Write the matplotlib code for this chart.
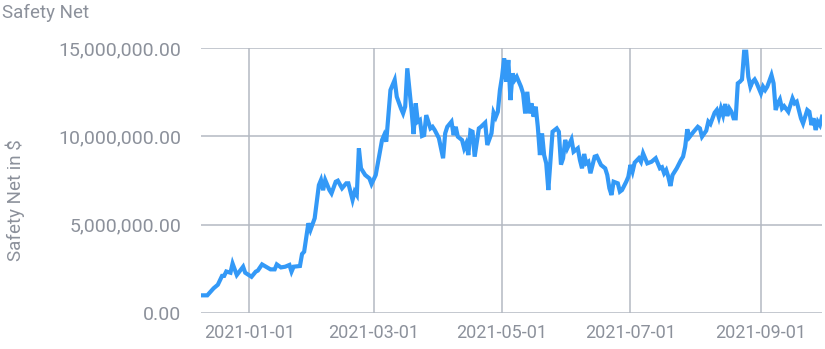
import pandas as pd
import matplotlib.pyplot as plt
import matplotlib.dates as mdates
from matplotlib.ticker import FuncFormatter

plt.rcParams['font.family'] = ['Roboto', 'DejaVu Sans']

# values (millions)
dates = [
    "2020-12-09", "2020-12-12", "2020-12-15", "2020-12-17", "2020-12-19", "2020-12-20",
    "2020-12-21", "2020-12-23", "2020-12-24", "2020-12-26", "2020-12-29", "2020-12-30",
    "2021-01-02", "2021-01-04", "2021-01-05", "2021-01-07", "2021-01-08", "2021-01-11",
    "2021-01-13", "2021-01-14", "2021-01-16", "2021-01-18", "2021-01-20", "2021-01-21",
    "2021-01-22", "2021-01-25", "2021-01-26", "2021-01-27", "2021-01-29", "2021-01-30",
    "2021-02-01", "2021-02-03", "2021-02-04", "2021-02-05", "2021-02-06", "2021-02-08",
    "2021-02-09", "2021-02-11", "2021-02-12", "2021-02-14", "2021-02-16", "2021-02-17",
    "2021-02-19", "2021-02-20", "2021-02-21", "2021-02-22", "2021-02-23", "2021-02-25",
    "2021-02-27", "2021-02-28", "2021-03-02", "2021-03-03", "2021-03-05", "2021-03-06",
    "2021-03-07", "2021-03-09", "2021-03-10", "2021-03-11", "2021-03-12", "2021-03-14",
    "2021-03-15", "2021-03-16", "2021-03-17", "2021-03-19", "2021-03-20", "2021-03-21",
    "2021-03-22", "2021-03-23", "2021-03-24", "2021-03-25", "2021-03-26", "2021-03-28",
    "2021-03-29", "2021-03-30", "2021-04-01", "2021-04-03", "2021-04-04", "2021-04-05",
    "2021-04-07", "2021-04-08", "2021-04-09", "2021-04-10", "2021-04-12", "2021-04-13",
    "2021-04-14", "2021-04-15", "2021-04-16", "2021-04-17", "2021-04-18", "2021-04-20",
    "2021-04-21", "2021-04-23", "2021-04-24", "2021-04-26", "2021-04-27", "2021-04-28",
    "2021-04-29", "2021-04-30", "2021-05-01", "2021-05-02", "2021-05-03", "2021-05-04",
    "2021-05-05", "2021-05-06", "2021-05-07", "2021-05-08", "2021-05-10", "2021-05-11",
    "2021-05-12", "2021-05-13", "2021-05-14", "2021-05-15", "2021-05-16", "2021-05-17",
    "2021-05-18", "2021-05-19", "2021-05-20", "2021-05-21", "2021-05-22", "2021-05-23",
    "2021-05-25", "2021-05-27", "2021-05-28", "2021-05-29", "2021-05-30", "2021-05-31",
    "2021-06-01", "2021-06-03", "2021-06-04", "2021-06-06", "2021-06-07", "2021-06-08",
    "2021-06-09", "2021-06-10", "2021-06-11", "2021-06-12", "2021-06-14", "2021-06-15",
    "2021-06-17", "2021-06-19", "2021-06-20", "2021-06-21", "2021-06-22", "2021-06-23",
    "2021-06-25", "2021-06-26", "2021-06-27", "2021-06-29", "2021-06-30", "2021-07-01",
    "2021-07-02", "2021-07-03", "2021-07-05", "2021-07-06", "2021-07-07", "2021-07-09",
    "2021-07-11", "2021-07-13", "2021-07-15", "2021-07-16", "2021-07-17", "2021-07-18",
    "2021-07-19", "2021-07-20", "2021-07-21", "2021-07-23", "2021-07-25", "2021-07-26",
    "2021-07-27", "2021-07-28", "2021-07-29", "2021-07-31", "2021-08-02", "2021-08-03",
    "2021-08-04", "2021-08-06", "2021-08-07", "2021-08-08", "2021-08-10", "2021-08-11",
    "2021-08-12", "2021-08-13", "2021-08-14", "2021-08-15", "2021-08-16", "2021-08-17",
    "2021-08-18", "2021-08-19", "2021-08-20", "2021-08-21", "2021-08-22", "2021-08-23",
    "2021-08-24", "2021-08-25", "2021-08-26", "2021-08-27", "2021-08-28", "2021-08-29",
    "2021-08-30", "2021-08-31", "2021-09-01", "2021-09-02", "2021-09-03", "2021-09-04",
    "2021-09-06", "2021-09-07", "2021-09-08", "2021-09-09", "2021-09-10", "2021-09-11",
    "2021-09-12", "2021-09-14", "2021-09-15", "2021-09-16", "2021-09-17", "2021-09-18",
    "2021-09-20", "2021-09-21", "2021-09-23", "2021-09-24", "2021-09-25", "2021-09-26",
    "2021-09-27", "2021-09-28", "2021-09-29", "2021-09-30",
]
safety_net_m = [
    1.00, 1.00, 1.40, 1.60, 2.10, 2.10,
    2.35, 2.28, 2.80, 2.15, 2.62, 2.28,
    2.05, 2.34, 2.40, 2.75, 2.68, 2.47,
    2.47, 2.75, 2.58, 2.62, 2.72, 2.34,
    2.62, 2.66, 3.34, 3.47, 5.08, 4.70,
    5.36, 7.24, 7.53, 6.95, 7.53, 6.96,
    6.77, 7.43, 7.49, 7.06, 7.34, 7.34,
    6.40, 6.87, 6.68, 9.32, 8.19, 7.81,
    7.62, 7.30, 7.81, 8.47, 9.79, 10.07,
    9.70, 12.62, 12.90, 13.19, 12.24, 11.58,
    11.30, 11.68, 13.85, 11.49, 10.13, 11.87,
    10.83, 10.92, 10.02, 10.07, 11.20, 10.45,
    10.54, 10.36, 9.90, 8.76, 10.17, 10.54,
    10.83, 10.07, 10.54, 9.98, 9.79, 9.32,
    9.60, 8.94, 10.32, 10.26, 8.85, 10.45,
    10.54, 10.77, 9.51, 10.17, 11.34, 11.08,
    11.39, 12.62, 13.37, 14.41, 13.09, 14.32,
    12.05, 13.56, 13.19, 13.37, 12.81, 12.43,
    11.30, 12.52, 11.30, 11.87, 11.11, 11.68,
    10.54, 8.94, 10.17, 8.94, 8.47, 6.96,
    10.26, 10.45, 10.26, 8.40, 8.75, 9.80,
    9.32, 9.83, 9.13, 9.32, 8.66, 8.19,
    9.00, 8.47, 8.56, 7.91, 8.85, 8.89,
    8.38, 8.19, 7.81, 7.06, 6.68, 7.43,
    7.34, 6.87, 6.96, 7.43, 7.71, 8.38,
    8.00, 8.51, 8.76, 8.56, 9.04, 8.47,
    8.56, 8.76, 8.19, 8.25, 7.91, 8.09,
    7.71, 7.19, 7.81, 8.19, 8.66, 8.85,
    9.41, 10.40, 9.95, 10.26, 10.54, 10.45,
    9.98, 10.32, 10.83, 10.70, 11.34, 11.49,
    11.08, 11.58, 11.20, 11.83, 11.15, 11.58,
    11.39, 11.02, 11.02, 13.00, 13.09, 13.22,
    14.79, 14.79, 13.37, 12.81, 13.09, 13.22,
    13.00, 12.72, 12.43, 12.81, 12.62, 12.81,
    13.47, 13.00, 11.49, 11.87, 12.09, 11.58,
    11.71, 11.39, 11.77, 12.15, 11.87, 11.96,
    11.02, 10.73, 11.49, 11.39, 10.64, 11.02,
    10.36, 10.83, 10.64, 11.11,
]
y_ticks = [0, 5_000_000, 10_000_000, 15_000_000]
x_ticks = ["2021-01-01", "2021-03-01", "2021-05-01", "2021-07-01", "2021-09-01"]

df = pd.DataFrame({"date": pd.to_datetime(dates), "value": [v * 1e6 for v in safety_net_m]})

text_col = "#8c919b"
grid_col = "#b4b9c2"

fig = plt.figure(figsize=(8.25, 3.49), dpi=100)
ax = fig.add_axes([201 / 825, 1 - 313 / 349, 621 / 825, 265 / 349])

ax.plot(df["date"], df["value"], color="#3399f7", linewidth=3.0, solid_joinstyle="miter", zorder=3)

ax.set_xlim(df["date"].min(), df["date"].max())
ax.set_ylim(0, 15_000_000)
ax.set_yticks(y_ticks)
ax.yaxis.set_major_formatter(FuncFormatter(lambda v, p: f"{v:,.2f}"))
ax.set_xticks(pd.to_datetime(x_ticks))
ax.xaxis.set_major_formatter(mdates.DateFormatter("%Y-%m-%d"))

ax.grid(True, color=grid_col, linewidth=1.1)
ax.set_axisbelow(True)
for s in ax.spines.values():
    s.set_visible(False)
ax.tick_params(axis="both", length=0, colors=text_col)
ax.tick_params(axis="y", pad=14, labelsize=14)
ax.tick_params(axis="x", pad=8, labelsize=13)

fig.text(2 / 825, 1 - 13 / 349, "Safety Net", fontsize=13.5, color=text_col, ha="left", va="center")
fig.text(15 / 825, 1 - 200 / 349, "Safety Net in $", fontsize=13.5, color=text_col,
         rotation=90, ha="center", va="center")

fig.savefig("out.png", dpi=100)
